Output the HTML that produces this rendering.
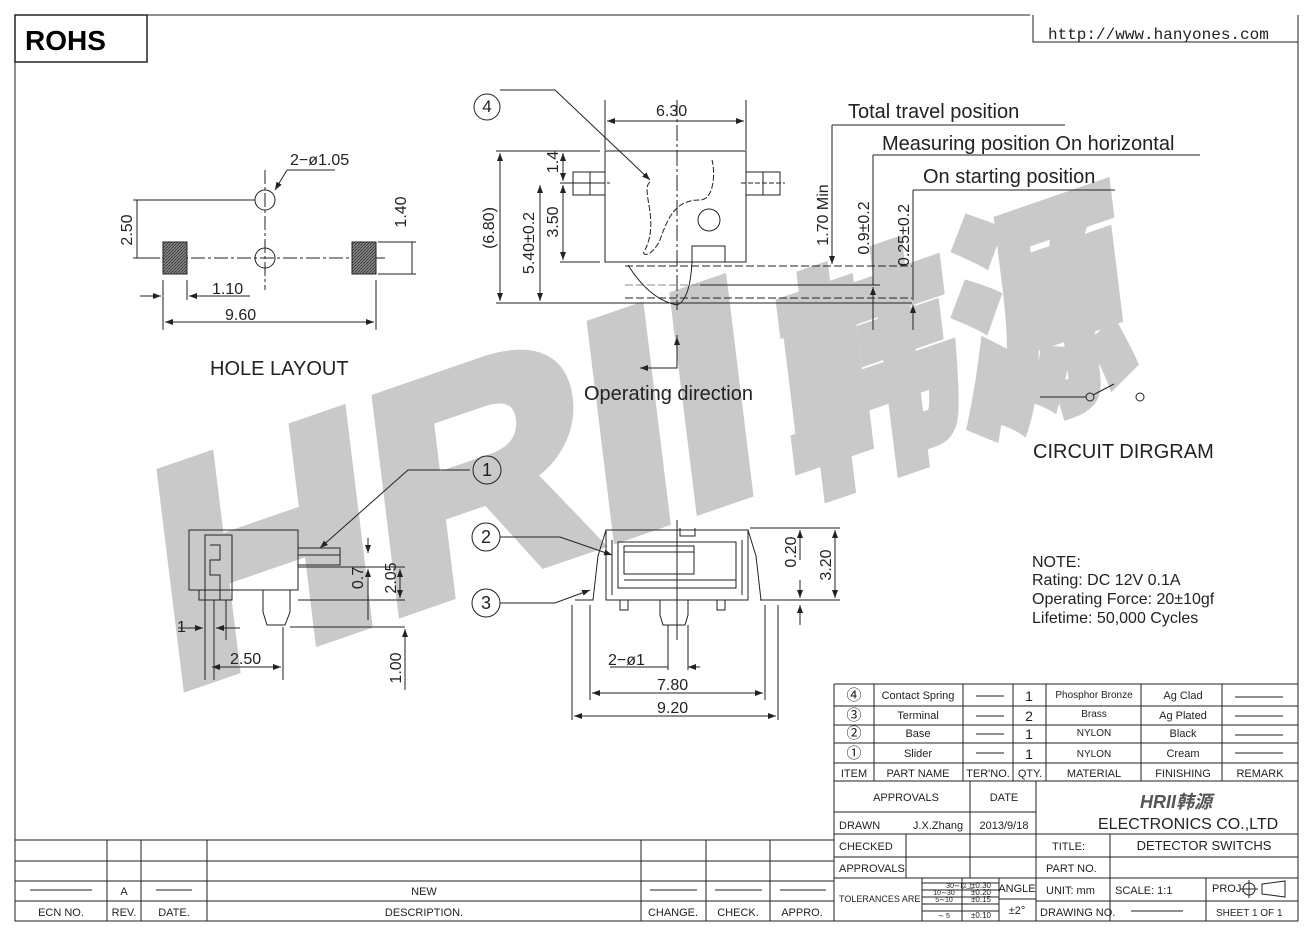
<!DOCTYPE html>
<html><head><meta charset="utf-8"><style>
html,body{margin:0;padding:0;background:#fff;}
svg{display:block;}
text{font-family:"Liberation Sans","Noto Sans CJK SC",sans-serif;fill:#222;}
</style></head><body>
<svg width="1314" height="937" viewBox="0 0 1314 937" xmlns="http://www.w3.org/2000/svg">
<defs>
<pattern id="h" width="3" height="3" patternUnits="userSpaceOnUse"><rect width="3" height="3" fill="#888"/><path d="M0 3L3 0" stroke="#333" stroke-width="0.8"/></pattern>
<marker id="a" markerWidth="8" markerHeight="6" refX="8" refY="3" orient="auto"><path d="M0 0L8 3L0 6z" fill="#222"/></marker>
</defs>
<!-- watermark -->
<g transform="translate(170,690) rotate(-19) skewX(-12)">
<text x="0" y="0" font-size="300" font-weight="bold" style="fill:#c9c9c9;stroke:#c9c9c9;stroke-width:14;stroke-linejoin:miter;font-family:'Liberation Sans',sans-serif" textLength="630" lengthAdjust="spacingAndGlyphs">HRII</text>
<text x="660" y="10" font-size="230" font-weight="900" style="fill:#c9c9c9;stroke:#c9c9c9;stroke-width:10;font-family:'Noto Sans CJK SC',sans-serif" textLength="360" lengthAdjust="spacingAndGlyphs">韩源</text>
</g>
<g stroke="#222" stroke-width="1" fill="none">
<!-- frame -->
<path d="M15 15H1030M15 15V921H1298V15"/>
<rect x="15" y="15" width="132" height="47" stroke-width="1.5"/>
<path d="M1033 15V42H1298"/>
<path d="M1298 15V45"/>
<!-- hole layout -->
<path d="M265 170V290M145 258H385" stroke-dasharray="14 3 3 3"/>
<circle cx="265" cy="200" r="10"/><circle cx="265" cy="258" r="10"/>
<rect x="163" y="242" width="24" height="32" fill="url(#h)"/>
<rect x="352" y="242" width="24" height="32" fill="url(#h)"/>
<path d="M287 170L275 190" marker-end="url(#a)"/><path d="M287 170H335"/>
<path d="M133 200H255M137 200V258M133 258H160"/>
<path d="M378 242H416M378 274H416M412 242V274"/>
<path d="M163 280V330M187 280V300M376 280V330"/>
<path d="M140 296H161" marker-end="url(#a)"/><path d="M250 296H189" marker-end="url(#a)"/>
<path d="M270 322H165" marker-end="url(#a)"/><path d="M270 322H374" marker-end="url(#a)"/>
<!-- top center -->
<rect x="605" y="151" width="141" height="111"/>
<rect x="573" y="172" width="32" height="23"/><path d="M590 172V195M746 172H780V195H746M763 172V195"/>
<path d="M600 183H610M741 183H785" stroke-dasharray="5 2"/>
<circle cx="709" cy="220" r="11"/>
<rect x="692" y="246" width="33" height="16"/>
<path d="M677 100V310" stroke-dasharray="16 3 3 3"/>
<path d="M650 182C640 190 660 220 645 250C640 255 650 260 660 240C670 210 680 200 700 200C715 200 715 170 712 160" stroke-dasharray="6 2"/>
<path d="M605 100V150M746 100V150"/>
<path d="M660 121H607" marker-end="url(#a)"/><path d="M660 121H744" marker-end="url(#a)"/>
<path d="M500 90H555L650 180" marker-end="url(#a)"/>
<path d="M496 151H600M560 183H600M560 262H600M496 303H912"/>
<path d="M500 225V153" marker-end="url(#a)"/><path d="M500 225V301" marker-end="url(#a)"/>
<path d="M540 240V185" marker-end="url(#a)"/><path d="M540 240V301" marker-end="url(#a)"/>
<path d="M563 160V153" marker-end="url(#a)"/><path d="M563 160V181" marker-end="url(#a)"/>
<path d="M563 220V185" marker-end="url(#a)"/><path d="M563 220V260" marker-end="url(#a)"/>
<path d="M625 266H912M625 298H912" stroke-dasharray="8 3"/>
<path d="M625 285H700" stroke-dasharray="8 3" stroke="#888"/><path d="M700 285H880"/>
<path d="M628 265Q650 300 677 305Q690 300 692 262"/>
<path d="M832 125H1065M832 125V262M873 155H1200M873 155V285M913 190H1115M913 190V300"/>
<path d="M832 230V264" marker-end="url(#a)"/>
<path d="M873 330V287" marker-end="url(#a)"/><path d="M913 330V305" marker-end="url(#a)"/>
<path d="M677 335V368H640"/><path d="M677 345V337" marker-end="url(#a)"/><path d="M650 368H640" marker-end="url(#a)"/>
<!-- circuit -->
<path d="M1040 397H1086M1093 395L1114 384"/><circle cx="1090" cy="397" r="4"/><circle cx="1140" cy="397" r="4"/>
<!-- bottom left view -->
<rect x="189" y="530" width="109" height="60"/>
<rect x="205" y="535" width="27" height="65"/>
<path d="M210 545H220V560H210V575H220V600"/>
<path d="M199 590V600H232"/>
<path d="M263 590V612L267 625H285L290 612V590"/>
<path d="M298 548H340V565H298M298 555H340"/>
<path d="M470 470H408L320 548" marker-end="url(#a)"/>
<path d="M298 567H405M298 600H405M290 627H405"/>
<path d="M368 538V553" marker-end="url(#a)"/><path d="M368 620V569" marker-end="url(#a)"/>
<path d="M400 583V569" marker-end="url(#a)"/><path d="M400 583V598" marker-end="url(#a)"/>
<path d="M405 660V629" marker-end="url(#a)"/><path d="M405 660V690"/>
<path d="M205 600V680M214 600V680M283 627V680M226 600V640"/>
<path d="M178 628H203" marker-end="url(#a)"/><path d="M240 628H216" marker-end="url(#a)"/>
<path d="M250 667H212" marker-end="url(#a)"/><path d="M250 667H281" marker-end="url(#a)"/>
<!-- bottom center -->
<path d="M606 530H748V600H606Z"/>
<path d="M606 530L598 556L593 600H575M748 530L756 556L761 600H780"/>
<path d="M612 540V595M742 540V595"/>
<rect x="618" y="542" width="118" height="46"/>
<rect x="624" y="546" width="70" height="28"/>
<path d="M624 552H694M624 580H736M680 528V536H695V528"/>
<path d="M620 600V610H628V600M717 600V610H725V600M660 600V615L663 625H685L688 615V600"/>
<path d="M677 520V640"/>
<path d="M500 537H560L612 555" marker-end="url(#a)"/>
<path d="M500 603H555L590 590" marker-end="url(#a)"/>
<path d="M750 528H840M760 600H840"/>
<path d="M800 560V530" marker-end="url(#a)"/><path d="M800 580V598" marker-end="url(#a)"/><path d="M800 625V605" marker-end="url(#a)"/>
<path d="M835 565V530" marker-end="url(#a)"/><path d="M835 565V598" marker-end="url(#a)"/>
<path d="M572 605V720M590 605V700M765 605V700M778 605V720M668 625V670M688 625V670"/>
<path d="M610 667H668M700 667H688" marker-end="url(#a)"/>
<path d="M670 693H592" marker-end="url(#a)"/><path d="M670 693H763" marker-end="url(#a)"/>
<path d="M670 716H574" marker-end="url(#a)"/><path d="M670 716H776" marker-end="url(#a)"/>
<!-- numbered circles -->
<circle cx="487" cy="107" r="13"/><circle cx="487" cy="470" r="14"/><circle cx="486" cy="537" r="14"/><circle cx="486" cy="603" r="14"/>
<!-- ECN table -->
<path d="M15 840H834M15 861H834M15 881H834M15 901H834"/>
<path d="M107 840V921M141 840V921M207 840V921M641 840V921M706 840V921M770 840V921M834 684V921"/>
<path d="M30 890H92M156 890H192M650 890H697M715 890H762M780 890H826"/>
<!-- title block -->
<path d="M834 684H1298V921"/>
<path d="M834 706H1298M834 725H1298M834 743H1298M834 763H1298M834 781H1298"/>
<path d="M874 684V781M963 684V781M1013 684V781M1046 684V781M1141 684V781M1222 684V781"/>
<path d="M834 812H1036M834 834H1298M834 857H1298M834 878H1298"/>
<path d="M906 834V878M970 781V878M1036 781V921M1110 834V921"/>
<path d="M922 878V921M962 878V921M999 878V921M1206 878V921M1036 901H1298"/>
<path d="M922 883H999M922 890H999M922 897H999M922 904H999M922 911H999M999 899H1036"/>
<path d="M976 696H1004M976 716H1004M976 734H1004M976 753H1004"/>
<path d="M1235 697H1283M1235 716H1283M1235 735H1283M1235 753H1283M1131 911H1183"/>
<circle cx="1249" cy="889" r="6"/><path d="M1240 889H1258M1249 880V898M1262 884L1285 881V897L1262 894Z"/>
</g>
<g font-size="11" fill="#222">
<text x="487" y="112" text-anchor="middle" font-size="17">4</text>
<text x="487" y="476" text-anchor="middle" font-size="18">1</text>
<text x="486" y="543" text-anchor="middle" font-size="18">2</text>
<text x="486" y="609" text-anchor="middle" font-size="18">3</text>
</g>
<text x="25" y="50" font-size="28" font-weight="bold" style="fill:#000">ROHS</text>
<text x="1048" y="39" font-size="16" style="font-family:'Liberation Mono',monospace">http://www.hanyones.com</text>
<g font-size="16">
<text x="290" y="165">2−ø1.05</text>
<text transform="translate(132,230) rotate(-90)" text-anchor="middle">2.50</text>
<text transform="translate(406,212) rotate(-90)" text-anchor="middle">1.40</text>
<text x="212" y="294">1.10</text>
<text x="225" y="320">9.60</text>
<text x="210" y="375" font-size="20">HOLE LAYOUT</text>
<text x="656" y="116">6.30</text>
<text transform="translate(494,228) rotate(-90)" text-anchor="middle">(6.80)</text>
<text transform="translate(534,243) rotate(-90)" text-anchor="middle">5.40±0.2</text>
<text transform="translate(558,162) rotate(-90)" text-anchor="middle">1.4</text>
<text transform="translate(558,222) rotate(-90)" text-anchor="middle">3.50</text>
<text transform="translate(828,215) rotate(-90)" text-anchor="middle">1.70 Min</text>
<text transform="translate(869,228) rotate(-90)" text-anchor="middle">0.9±0.2</text>
<text transform="translate(909,235) rotate(-90)" text-anchor="middle">0.25±0.2</text>
<text x="848" y="118" font-size="20">Total travel position</text>
<text x="882" y="150" font-size="20">Measuring position On horizontal</text>
<text x="923" y="183" font-size="20">On starting position</text>
<text x="584" y="400" font-size="20">Operating direction</text>
<text x="1033" y="458" font-size="20">CIRCUIT DIRGRAM</text>
<text transform="translate(363,578) rotate(-90)" text-anchor="middle">0.7</text>
<text transform="translate(396,578) rotate(-90)" text-anchor="middle">2.05</text>
<text transform="translate(401,668) rotate(-90)" text-anchor="middle">1.00</text>
<text x="177" y="632">1</text>
<text x="230" y="664">2.50</text>
<text transform="translate(796,552) rotate(-90)" text-anchor="middle">0.20</text>
<text transform="translate(831,565) rotate(-90)" text-anchor="middle">3.20</text>
<text x="608" y="665">2−ø1</text>
<text x="657" y="690">7.80</text>
<text x="657" y="713">9.20</text>
<text x="1032" y="567">NOTE:</text>
<text x="1032" y="585">Rating: DC 12V 0.1A</text>
<text x="1032" y="604">Operating Force: 20±10gf</text>
<text x="1032" y="623">Lifetime:   50,000 Cycles</text>
</g>
<g font-size="11" text-anchor="middle">
<text x="61" y="916">ECN NO.</text><text x="124" y="916">REV.</text><text x="174" y="916">DATE.</text>
<text x="424" y="916">DESCRIPTION.</text><text x="673" y="916">CHANGE.</text><text x="738" y="916">CHECK.</text><text x="802" y="916">APPRO.</text>
<text x="124" y="895">A</text><text x="424" y="895">NEW</text>
<text x="854" y="700" font-size="15">④</text><text x="854" y="720" font-size="15">③</text><text x="854" y="738" font-size="15">②</text><text x="854" y="758" font-size="15">①</text>
<text x="918" y="699">Contact Spring</text><text x="918" y="719">Terminal</text><text x="918" y="737">Base</text><text x="918" y="757">Slider</text>
<text x="1029" y="701" font-size="14">1</text><text x="1029" y="721" font-size="14">2</text><text x="1029" y="739" font-size="14">1</text><text x="1029" y="759" font-size="14">1</text>
<text x="1094" y="698" font-size="10">Phosphor Bronze</text><text x="1094" y="717" font-size="10">Brass</text><text x="1094" y="736" font-size="10">NYLON</text><text x="1094" y="757" font-size="10">NYLON</text>
<text x="1183" y="699">Ag Clad</text><text x="1183" y="719">Ag Plated</text><text x="1183" y="737">Black</text><text x="1183" y="757">Cream</text>
<text x="854" y="777">ITEM</text><text x="918" y="777">PART NAME</text><text x="988" y="777">TER'NO.</text><text x="1030" y="777">QTY.</text><text x="1094" y="777">MATERIAL</text><text x="1183" y="777">FINISHING</text><text x="1260" y="777">REMARK</text>
<text x="906" y="801">APPROVALS</text><text x="1004" y="801">DATE</text>
<text x="938" y="829">J.X.Zhang</text><text x="1004" y="829">2013/9/18</text>
<text x="1204" y="850" font-size="13">DETECTOR SWITCHS</text>
<text x="960" y="888" font-size="7">30∼以上</text><text x="981" y="888" font-size="8">±0.30</text>
<text x="944" y="895" font-size="7">10∼30</text><text x="981" y="895" font-size="8">±0.20</text>
<text x="944" y="902" font-size="7">5∼10</text><text x="981" y="902" font-size="8">±0.15</text>
<text x="944" y="918" font-size="7">∼ 5</text><text x="981" y="918" font-size="8">±0.10</text>
<text x="1017" y="892">ANGLE</text><text x="1017" y="914">±2°</text>
</g>
<g font-size="11">
<text x="839" y="829">DRAWN</text><text x="839" y="850">CHECKED</text><text x="839" y="872">APPROVALS</text>
<text x="839" y="902" font-size="9">TOLERANCES ARE</text>
<text x="1052" y="850">TITLE:</text><text x="1046" y="872">PART NO.</text>
<text x="1046" y="894">UNIT: mm</text><text x="1115" y="894">SCALE:  1:1</text><text x="1212" y="892">PROJ.</text>
<text x="1040" y="916">DRAWING NO.</text><text x="1216" y="916" font-size="10">SHEET  1 OF 1</text>
<text x="1098" y="829" font-size="16">ELECTRONICS CO.,LTD</text>
<text x="1140" y="808" font-size="18" font-style="italic" font-weight="bold" style="fill:#555">HRII<tspan style="font-family:'Noto Sans CJK SC',sans-serif">韩源</tspan></text>
</g>
</svg>
</body></html>
